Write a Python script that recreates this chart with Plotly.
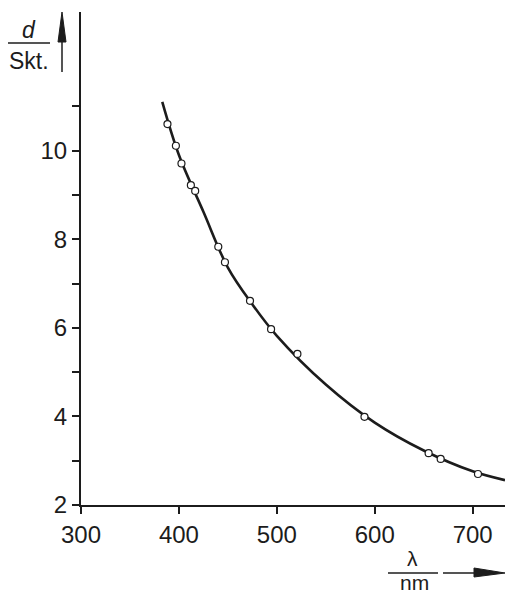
import plotly.graph_objects as go

# measured points (wavelength in nm, deflection d in Skt.)
meas_lambda = [388.3, 396.9, 402.6, 412.2, 416.6, 440.2, 447.0, 472.6, 494.1, 521.0, 589.5, 655.0, 667.3, 705.4]
meas_d = [10.60, 10.11, 9.71, 9.22, 9.09, 7.83, 7.48, 6.61, 5.97, 5.41, 3.99, 3.17, 3.04, 2.70]

# fitted curve
curve_lambda = [383, 400, 425, 450, 475, 500, 550, 600, 650, 700, 733]
curve_d = [11.1, 9.9, 8.62, 7.36, 6.53, 5.82, 4.72, 3.86, 3.23, 2.76, 2.56]

x_ticks = [300, 400, 500, 600, 700]
y_ticks = [2, 3, 4, 5, 6, 7, 8, 9, 10, 11]
y_ticktext = ["2", "", "4", "", "6", "", "8", "", "10", ""]

FONT = "Liberation Sans, Arial, Helvetica, sans-serif"
INK = "#1c1c1c"
PW, PH = 424, 493  # plot area in pixels

fig = go.Figure()
fig.add_trace(go.Scatter(
    x=curve_lambda, y=curve_d, mode="lines",
    line=dict(color=INK, width=2.6, shape="spline", smoothing=1.0),
    hoverinfo="skip", showlegend=False,
))
fig.add_trace(go.Scatter(
    x=meas_lambda, y=meas_d, mode="markers",
    marker=dict(symbol="circle", size=7, color="white",
                line=dict(color=INK, width=1.2)),
    showlegend=False,
))

fig.update_layout(
    width=507, height=595,
    margin=dict(l=81, r=2, t=12, b=90),
    paper_bgcolor="white", plot_bgcolor="white",
    font=dict(family=FONT, size=24, color=INK),
    xaxis=dict(
        range=[300, 733], tickvals=x_ticks, ticktext=[str(v) for v in x_ticks],
        showgrid=False, zeroline=False, showline=True, linecolor=INK, linewidth=2,
        ticks="outside", ticklen=7, tickwidth=1.5, tickcolor=INK,
        tickfont=dict(family=FONT, size=24, color=INK),
    ),
    yaxis=dict(
        range=[2, 13.13], tickvals=y_ticks, ticktext=y_ticktext,
        showgrid=False, zeroline=False, showline=True, linecolor=INK, linewidth=2,
        ticks="outside", ticklen=7, tickwidth=1.5, tickcolor=INK,
        tickfont=dict(family=FONT, size=24, color=INK),
    ),
)

def px(xp):
    return (xp - 81) / PW

def py(yp):
    return 1 - (yp - 12) / PH

XR, YR = "x domain", "y domain"

def line(x0, y0, x1, y1, w=1.6):
    fig.add_shape(type="line", xref=XR, yref=YR,
                  x0=px(x0), x1=px(x1), y0=py(y0), y1=py(y1),
                  line=dict(color=INK, width=w))

def tri(pts):
    path = "M " + " L ".join(f"{px(a)},{py(b)}" for a, b in pts) + " Z"
    fig.add_shape(type="path", xref=XR, yref=YR, path=path,
                  fillcolor=INK, line=dict(color=INK, width=1))

# y-axis quantity label  d / Skt.  with arrow
fig.add_annotation(xref=XR, yref=YR, x=px(29), y=py(30), xanchor="center", yanchor="middle",
                   text="<i>d</i>", showarrow=False, font=dict(family=FONT, size=23, color=INK))
fig.add_annotation(xref=XR, yref=YR, x=px(29), y=py(61), xanchor="center", yanchor="middle",
                   text="Skt.", showarrow=False, font=dict(family=FONT, size=23, color=INK))
line(8, 43, 50, 43)
line(62, 72, 62, 38, w=1.5)
tri([(62, 12), (58, 42), (66, 42)])

# x-axis quantity label  λ / nm  with arrow
AY = 573
fig.add_annotation(xref=XR, yref=YR, x=px(412), y=py(558), xanchor="center", yanchor="middle",
                   text="λ", showarrow=False, font=dict(family=FONT, size=21, color=INK))
fig.add_annotation(xref=XR, yref=YR, x=px(414), y=py(582.5), xanchor="center", yanchor="middle",
                   text="nm", showarrow=False, font=dict(family=FONT, size=21, color=INK))
line(388, AY, 438, AY)
line(443, AY, 478, AY, w=1.5)
tri([(505, AY), (474, AY - 5), (474, AY + 4)])

fig.write_html(
    "out.html",
    config={"displayModeBar": False},
    post_script="document.body.style.margin='0';document.body.style.overflow='hidden';",
)
